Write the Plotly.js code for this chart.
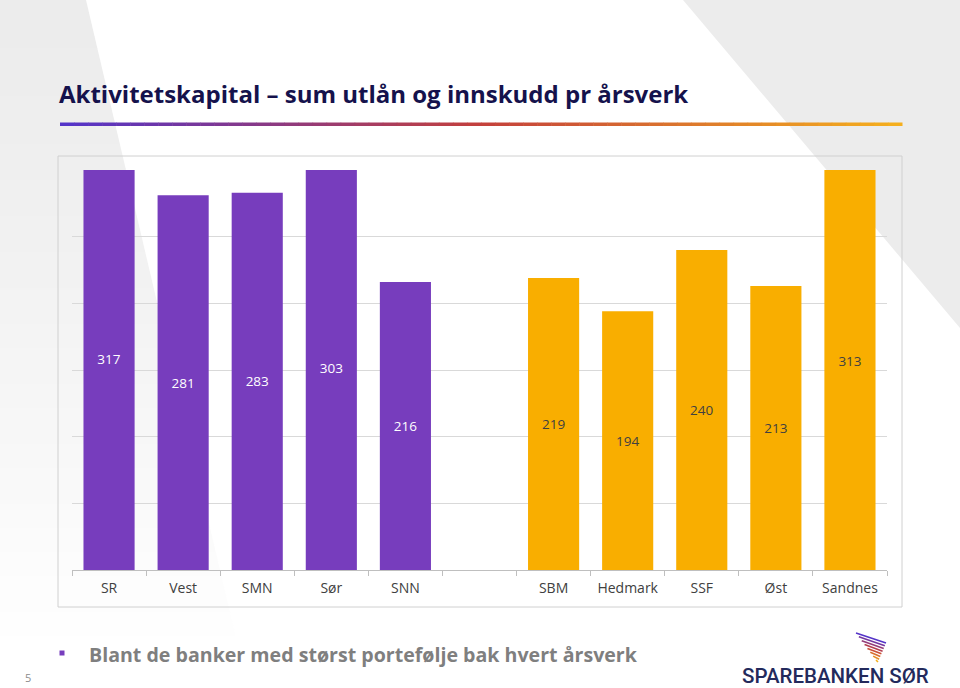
<!DOCTYPE html>
<html>
<head>
<meta charset="utf-8">
<script src="https://cdn.plot.ly/plotly-3.0.1.min.js"></script>
<style>
html,body{margin:0;padding:0;background:#fff;}
#chart{width:960px;height:688px;}
</style>
</head>
<body>
<div id="chart"></div>
<script>
// ---- data ----
const categories = ['SR', 'Vest', 'SMN', 'Sør', 'SNN', ' ', 'SBM', 'Hedmark', 'SSF', 'Øst', 'Sandnes'];
const values = [317, 281, 283, 303, 216, null, 219, 194, 240, 213, 313];
const groups = ['a', 'a', 'a', 'a', 'a', '', 'b', 'b', 'b', 'b', 'b'];
const yTicks = [0, 50, 100, 150, 200, 250, 300];
const titleText = 'Aktivitetskapital – sum utlån og innskudd pr årsverk';
const bulletText = 'Blant de banker med størst portefølje bak hvert årsverk';
const logoText = 'SPAREBANKEN SØR';
const pageNumber = '5';

// ---- styles ----
const groupColor = {a: '#773DBD', b: '#F9AE00', '': '#ffffff'};
const groupTextColor = {a: '#ffffff', b: '#404040', '': '#ffffff'};

// ---- layout geometry (pixels) ----
const W = 960, H = 688;
const ML = 72, MT = 170, MR = 73, MB = 118;
const PW = W - ML - MR, PH = H - MT - MB;
const px = x => (x - ML) / PW;
const py = y => (H - MB - y) / PH;

function lerp(a, b, t) { return a + (b - a) * t; }

const shapes = [];
// background grey areas (left one fades towards the bottom)
const leftX = y => 86 + 0.235 * y;
const bandH = 12;
for (let y = 0; y < 640; y += bandH) {
  const y2 = Math.min(y + bandH + 0.5, 688);
  const t = y / 640;
  const g = Math.round(lerp(236, 255, Math.pow(t, 1.3)));
  shapes.push({type: 'path', xref: 'paper', yref: 'paper', layer: 'below',
    path: `M ${px(0)} ${py(y)} L ${px(leftX(y))} ${py(y)} L ${px(leftX(y2))} ${py(y2)} L ${px(0)} ${py(y2)} Z`,
    fillcolor: `rgb(${g},${g},${g})`, line: {width: 0}});
}
shapes.push({type: 'path', xref: 'paper', yref: 'paper', layer: 'below',
  path: `M ${px(683)} ${py(0)} L ${px(960)} ${py(0)} L ${px(960)} ${py(328)} Z`,
  fillcolor: '#ececec', line: {width: 0}});
// chart box
shapes.push({type: 'rect', xref: 'paper', yref: 'paper', layer: 'below',
  x0: px(58), x1: px(902), y0: py(156), y1: py(607),
  fillcolor: 'rgba(0,0,0,0)', line: {color: '#d0d0d0', width: 1}});

// gradient underline
function gradColor(t) {
  const stops = [[0, [84, 52, 200]], [0.5, [196, 64, 60]], [1, [245, 175, 30]]];
  let i = t < 0.5 ? 0 : 1;
  const t0 = stops[i][0], t1 = stops[i + 1][0];
  const u = (t - t0) / (t1 - t0);
  const c = stops[i][1].map((v, k) => Math.round(lerp(v, stops[i + 1][1][k], u)));
  return `rgb(${c[0]},${c[1]},${c[2]})`;
}
const nSeg = 60, lx0 = 60, lx1 = 902;
for (let i = 0; i < nSeg; i++) {
  const a = lx0 + (lx1 - lx0) * i / nSeg, b = lx0 + (lx1 - lx0) * (i + 1) / nSeg + 0.5;
  shapes.push({type: 'rect', xref: 'paper', yref: 'paper', layer: 'below',
    x0: px(a), x1: px(b), y0: py(122.5), y1: py(126),
    fillcolor: gradColor(i / (nSeg - 1)), line: {width: 0}});
}
// bullet square
shapes.push({type: 'rect', xref: 'paper', yref: 'paper',
  x0: px(59.5), x1: px(64.5), y0: py(650.5), y1: py(655.5),
  fillcolor: '#773DBD', line: {width: 0}});
// logo stripes
const nStripe = 8;
for (let i = 0; i < nStripe; i++) {
  const t = i / (nStripe - 1);
  const xl = lerp(856, 876, t), yl = lerp(633, 660, t);
  const xr = lerp(886, 878, t), yr = lerp(643, 662, t);
  shapes.push({type: 'line', xref: 'paper', yref: 'paper',
    x0: px(xl), y0: py(yl), x1: px(xr), y1: py(yr),
    line: {color: gradColor(t), width: 1.6}});
}

const annotations = [
  {text: bulletText, xref: 'paper', yref: 'paper', x: px(87), y: py(654), xanchor: 'left', yanchor: 'middle',
   showarrow: false, font: {family: 'Open Sans, sans-serif', size: 19.6, color: '#7f7f7f', weight: 'bold'}},
  {text: pageNumber, xref: 'paper', yref: 'paper', x: px(28), y: py(677), xanchor: 'center', yanchor: 'middle',
   showarrow: false, font: {family: 'Open Sans, sans-serif', size: 11, color: '#8c8c8c'}},
  {text: logoText, xref: 'paper', yref: 'paper', x: px(835), y: py(676), xanchor: 'center', yanchor: 'middle',
   showarrow: false, font: {family: 'Roboto, sans-serif', size: 20.5, color: '#232a5c', weight: 500}}
];

const trace = {
  type: 'bar',
  x: categories,
  y: values,
  marker: {color: groups.map(g => groupColor[g])},
  text: values.map(v => v === null ? '' : String(v)),
  textposition: 'inside',
  insidetextanchor: 'middle',
  textangle: 0,
  constraintext: 'none',
  textfont: {family: 'Open Sans, sans-serif', size: 13.5, color: groups.map(g => groupTextColor[g])},
  hoverinfo: 'x+y',
  cliponaxis: true
};

const layout = {
  width: W, height: H,
  margin: {l: ML, r: MR, t: MT, b: MB, pad: 0},
  paper_bgcolor: '#ffffff',
  plot_bgcolor: 'rgba(0,0,0,0)',
  showlegend: false,
  bargap: 0.31,
  title: {
    text: titleText,
    xref: 'container', yref: 'container',
    x: 59 / W, xanchor: 'left',
    y: 1 - 95 / H, yanchor: 'middle',
    font: {family: 'Open Sans, sans-serif', size: 24, color: '#15124c', weight: 'bold'}
  },
  xaxis: {
    type: 'category',
    categoryorder: 'array',
    categoryarray: categories,
    range: [-0.5, categories.length - 0.5],
    tickson: 'boundaries',
    ticks: 'outside',
    ticklen: 5,
    tickcolor: '#bfbfbf',
    showline: true,
    linecolor: '#bfbfbf',
    linewidth: 1,
    showgrid: false,
    tickfont: {family: 'Open Sans, sans-serif', size: 14, color: '#404040'},
    ticklabelstandoff: 5,
    fixedrange: true
  },
  yaxis: {
    range: [yTicks[0], yTicks[yTicks.length - 1]],
    tickvals: yTicks,
    showticklabels: false,
    showgrid: true,
    gridcolor: '#d9d9d9',
    gridwidth: 1,
    zeroline: false,
    showline: false,
    ticks: '',
    fixedrange: true
  },
  shapes: shapes,
  annotations: annotations
};

Plotly.newPlot('chart', [trace], layout, {displayModeBar: false, staticPlot: true});
</script>
</body>
</html>
